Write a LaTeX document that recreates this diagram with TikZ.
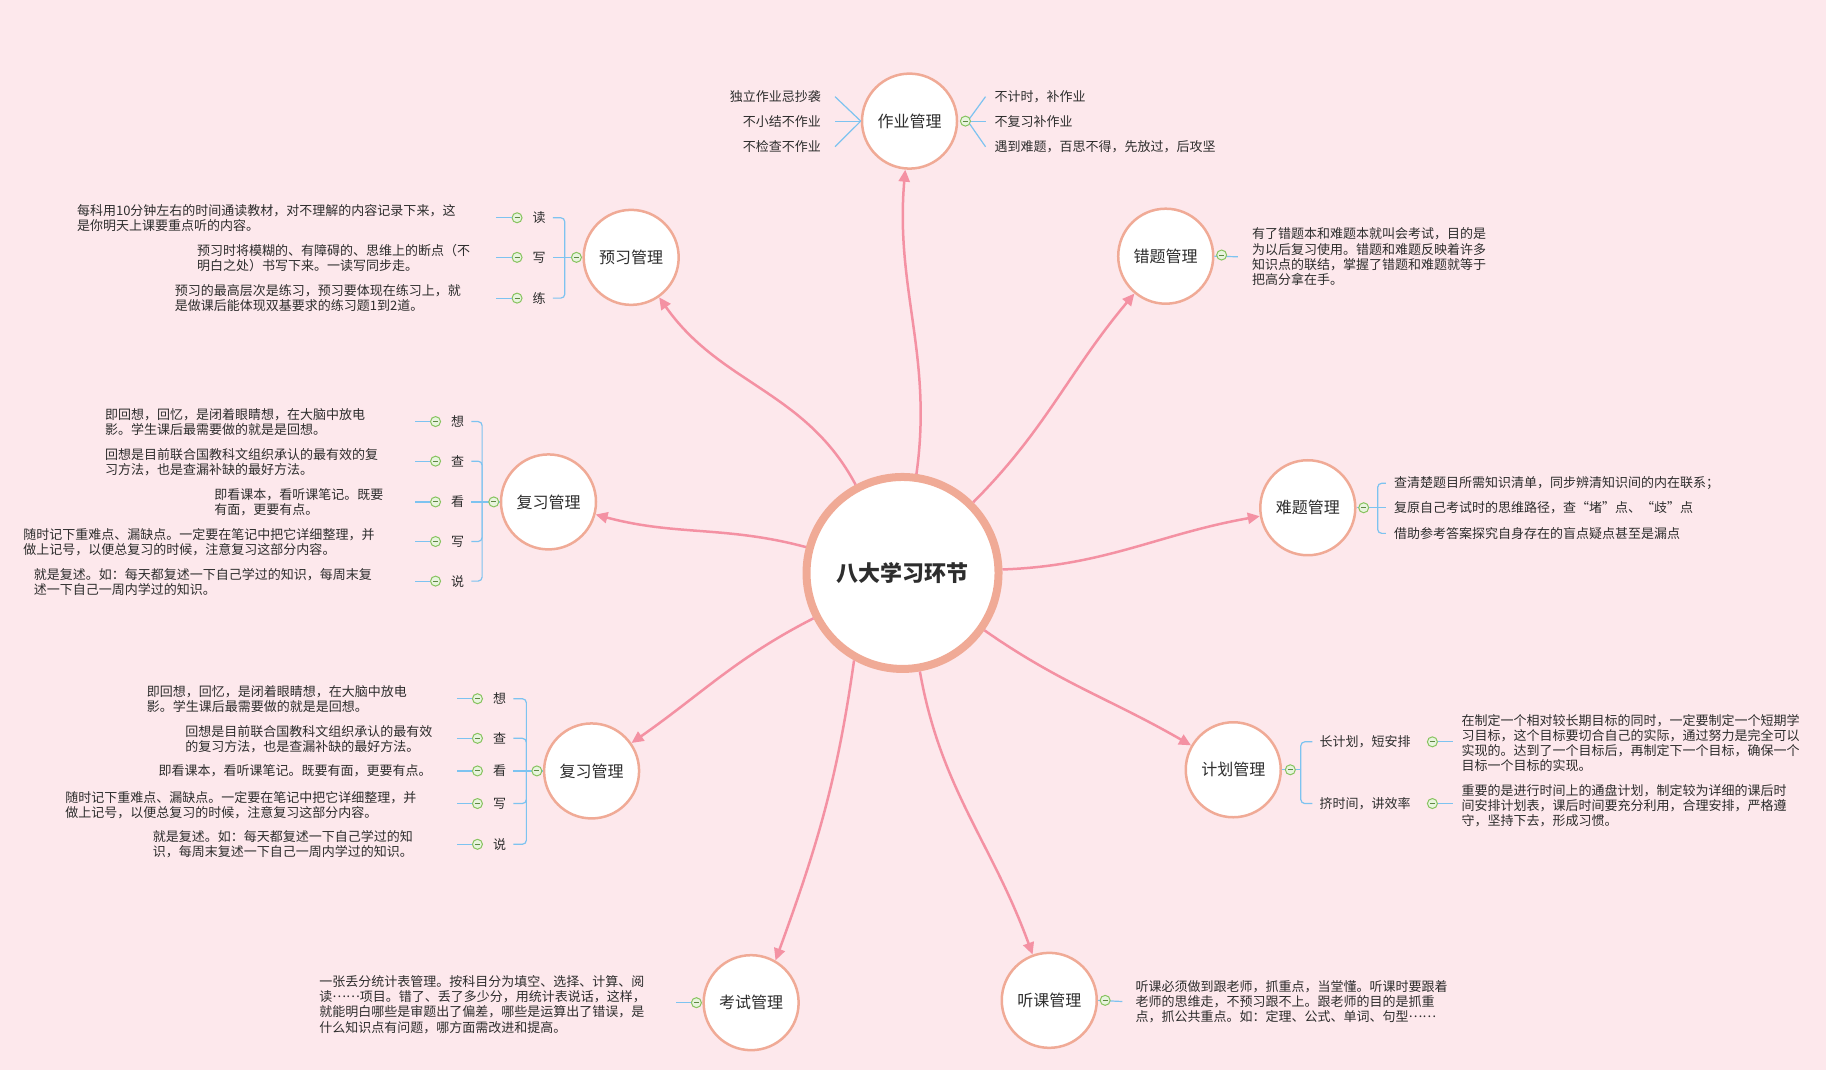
\documentclass[tikz,border=0pt]{standalone}
\usepackage{fontspec}
\newfontfamily\cjk{Noto Sans CJK SC}
\usetikzlibrary{arrows.meta}
\definecolor{bg}{RGB}{253,232,236}
\definecolor{ring}{RGB}{240,170,150}
\definecolor{linkpink}{RGB}{244,145,163}
\definecolor{twigblue}{RGB}{125,195,240}
\definecolor{mk}{RGB}{135,195,95}
\definecolor{mkfill}{RGB}{232,244,222}
\definecolor{ink}{RGB}{45,45,45}
\newcommand{\midellip}{\raisebox{0.33em}{……}}
\tikzset{
    hub/.style={circle, draw=ring, line width=8pt, fill=white, minimum size=192pt, inner sep=0pt, font=\cjk\bfseries\fontsize{22}{26}\selectfont, text=ink},
    topic/.style={circle, draw=ring, line width=2.5pt, fill=white, minimum size=95pt, inner sep=0pt, font=\cjk\fontsize{16}{19}\selectfont, text=ink},
    link/.style={draw=linkpink, line width=2.5pt, -{Triangle[length=12pt,width=11pt]}},
    twig/.style={draw=twigblue, line width=1.2pt},
    note/.style={font=\cjk\fontsize{13}{15.2}\selectfont, text=ink, align=left, inner sep=0pt}
}

\begin{document}
\begin{tikzpicture}[
    x=1.1645pt, y=1.1645pt,
    fold/.style={circle, draw=mk, fill=mkfill, line width=1pt, minimum size=10pt, inner sep=0pt,
        path picture={\draw[mk!70!black, line width=1pt] ([xshift=-2.5pt]path picture bounding box.center) -- ([xshift=2.5pt]path picture bounding box.center);}},
    sub/.style={font=\cjk\fontsize{13}{15.2}\selectfont, text=ink, inner xsep=7pt, inner ysep=0pt}
]
    % Canvas
    \useasboundingbox (0,0) rectangle (1568,-919);
    \fill[bg] (0,0) rectangle (1568,-919);

    % Hub and main topics
    \node[hub] (HUB) at (775,-492) {八大学习环节};
    \node[topic] (ZY) at (781,-104) {作业管理};
    \node[topic] (YX) at (542,-221) {预习管理};
    \node[topic] (CT) at (1001,-220) {错题管理};
    \node[topic] (FA) at (471,-431) {复习管理};
    \node[topic] (NT) at (1123,-436) {难题管理};
    \node[topic] (FB) at (508,-662) {复习管理};
    \node[topic] (JH) at (1059,-661) {计划管理};
    \node[topic] (KS) at (645,-861) {考试管理};
    \node[topic] (TK) at (901,-859) {听课管理};

    % Curved links from the hub
    \draw[link] (HUB) to[out=82, in=-95] (ZY);
    \draw[link] (HUB) to[out=118, in=-55] (YX);
    \draw[link] (HUB) to[out=45, in=-130] (CT);
    \draw[link] (HUB) to[out=165, in=-15] (FA);
    \draw[link] (HUB) to[out=2, in=190] (NT);
    \draw[link] (HUB) to[out=207, in=35] (FB);
    \draw[link] (HUB) to[out=-35, in=150] (JH);
    \draw[link] (HUB.-119) to[out=-98, in=70] (KS.60);
    \draw[link] (HUB) to[out=-80, in=110] (TK);

    % 作业管理
    \node[note, anchor=east] (ZL1) at (705,-83) {独立作业忌抄袭};
    \node[note, anchor=east] (ZL2) at (705,-104) {不小结不作业};
    \node[note, anchor=east] (ZL3) at (705,-126) {不检查不作业};
    \node[note, anchor=west] (ZR1) at (854,-83) {不计时，补作业};
    \node[note, anchor=west] (ZR2) at (854,-104) {不复习补作业};
    \node[note, anchor=west] (ZR3) at (854,-126) {遇到难题，百思不得，先放过，后攻坚};
    \draw[twig] (ZY.west) -- ([xshift=14pt]ZL1.east);
    \draw[twig] (ZY.west) -- ([xshift=14pt]ZL2.east);
    \draw[twig] (ZY.west) -- ([xshift=14pt]ZL3.east);
    \draw[twig] (831,-104) -- ([xshift=-9pt]ZR1.west);
    \draw[twig] (831,-104) -- ([xshift=-9pt]ZR2.west);
    \draw[twig] (831,-104) -- ([xshift=-9pt]ZR3.west);
    \node[fold] (ZF) at (829,-104) {};

    % 预习管理
    \node[sub] (YXa) at (463,-187) {读};
    \node[sub] (YXb) at (463,-221) {写};
    \node[sub] (YXc) at (463,-256) {练};
    \coordinate (YXj) at (485,-221);
    \draw[twig] (YX.west) -- (YXb.east);
    \draw[twig, rounded corners=4pt] (YXj) |- (YXa.east);
    \draw[twig, rounded corners=4pt] (YXj) |- (YXc.east);
    \node[fold] (YF) at (495,-221) {};
    \foreach \n/\y in {a/-187, b/-221, c/-256} {
        \node[fold] (YM\n) at (444,\y) {};
        \draw[twig] (YM\n.west) -- ++(-13,0);
    }
    \node[note, anchor=west] (YN1) at (66,-187.5) {每科用10分钟左右的时间通读教材，对不理解的内容记录下来，这\\是你明天上课要重点听的内容。};
    \node[note, anchor=west] (YN2) at (169,-221.5) {预习时将模糊的、有障碍的、思维上的断点（不\\明白之处）书写下来。一读写同步走。};
    \node[note, anchor=west] (YN3) at (150,-256) {预习的最高层次是练习，预习要体现在练习上，就\\是做课后能体现双基要求的练习题1到2道。};

    % 错题管理
    \node[note, anchor=west] (CT1) at (1075,-220.5) {有了错题本和难题本就叫会考试，目的是\\为以后复习使用。错题和难题反映着许多\\知识点的联结，掌握了错题和难题就等于\\把高分拿在手。};
    \draw[twig] (CT.east) -- ([xshift=-14pt]CT1.west);
    \node[fold] (CF) at (1049,-219) {};

    % 复习管理 (upper)
    \node[sub] (FAa) at (393,-362) {想};
    \node[sub] (FAb) at (393,-396) {查};
    \node[sub] (FAc) at (393,-431) {看};
    \node[sub] (FAd) at (393,-465) {写};
    \node[sub] (FAe) at (393,-499) {说};
    \coordinate (FAj) at (414,-431);
    \draw[twig] (FA.west) -- (FAc.east);
    \foreach \n in {a,b,d,e}
        \draw[twig, rounded corners=4pt] (FAj) |- (FA\n.east);
    \node[fold] (FAF) at (424,-431) {};
    \foreach \n/\y in {a/-362, b/-396, c/-431, d/-465, e/-499} {
        \node[fold] (FAM\n) at (374,\y) {};
        \draw[twig] (FAM\n.west) -- ++(-13,0);
    }
    \node[note, anchor=west] (FN1) at (90,-362.5) {即回想，回忆，是闭着眼睛想，在大脑中放电\\影。学生课后最需要做的就是是回想。};
    \node[note, anchor=west] (FN2) at (90,-397) {回想是目前联合国教科文组织承认的最有效的复\\习方法，也是查漏补缺的最好方法。};
    \node[note, anchor=west] (FN3) at (184,-431.5) {即看课本，看听课笔记。既要\\有面，更要有点。};
    \node[note, anchor=west] (FN4) at (20,-465.5) {随时记下重难点、漏缺点。一定要在笔记中把它详细整理，并\\做上记号，以便总复习的时候，注意复习这部分内容。};
    \node[note, anchor=west] (FN5) at (29,-499.5) {就是复述。如：每天都复述一下自己学过的知识，每周末复\\述一下自己一周内学过的知识。};

    % 难题管理
    \node[note, anchor=west] (NT1) at (1197,-415) {查清楚题目所需知识清单，同步辨清知识间的内在联系；};
    \node[note, anchor=west] (NT2) at (1197,-436) {复原自己考试时的思维路径，查“堵”点、“歧”点};
    \node[note, anchor=west] (NT3) at (1197,-458) {借助参考答案探究自身存在的盲点疑点甚至是漏点};
    \coordinate (NTj) at (1183,-436);
    \draw[twig] (NT.east) -- ([xshift=-8pt]NT2.west);
    \draw[twig, rounded corners=4pt] (NTj) |- ([xshift=-8pt]NT1.west);
    \draw[twig, rounded corners=4pt] (NTj) |- ([xshift=-8pt]NT3.west);
    \node[fold] (NF) at (1171,-436) {};

    % 复习管理 (lower)
    \node[sub] (FBa) at (429,-600) {想};
    \node[sub] (FBb) at (429,-634) {查};
    \node[sub] (FBc) at (429,-662) {看};
    \node[sub] (FBd) at (429,-690) {写};
    \node[sub] (FBe) at (429,-725) {说};
    \coordinate (FBj) at (452,-662);
    \draw[twig] (FB.west) -- (FBc.east);
    \foreach \n in {a,b,d,e}
        \draw[twig, rounded corners=4pt] (FBj) |- (FB\n.east);
    \node[fold] (FBF) at (461,-662) {};
    \foreach \n/\y in {a/-600, b/-634, c/-662, d/-690, e/-725} {
        \node[fold] (FBM\n) at (410,\y) {};
        \draw[twig] (FBM\n.west) -- ++(-13,0);
    }
    \node[note, anchor=west] (GN1) at (126,-600.5) {即回想，回忆，是闭着眼睛想，在大脑中放电\\影。学生课后最需要做的就是是回想。};
    \node[note, anchor=west] (GN2) at (159,-634.5) {回想是目前联合国教科文组织承认的最有效\\的复习方法，也是查漏补缺的最好方法。};
    \node[note, anchor=west] (GN3) at (136,-662) {即看课本，看听课笔记。既要有面，更要有点。};
    \node[note, anchor=west] (GN4) at (56,-691.5) {随时记下重难点、漏缺点。一定要在笔记中把它详细整理，并\\做上记号，以便总复习的时候，注意复习这部分内容。};
    \node[note, anchor=west] (GN5) at (131,-725) {就是复述。如：每天都复述一下自己学过的知\\识，每周末复述一下自己一周内学过的知识。};

    % 计划管理
    \node[sub, anchor=west] (JHa) at (1127,-637) {长计划，短安排};
    \node[sub, anchor=west] (JHb) at (1127,-690) {挤时间，讲效率};
    \coordinate (JHj) at (1117,-661);
    \draw[twig] (JH.east) -- (JHj);
    \draw[twig, rounded corners=4pt] (JHj) |- (JHa.west);
    \draw[twig, rounded corners=4pt] (JHj) |- (JHb.west);
    \node[fold] (JF) at (1108,-661) {};
    \node[note, anchor=west] (JN1) at (1255,-638) {在制定一个相对较长期目标的同时，一定要制定一个短期学\\习目标，这个目标要切合自己的实际，通过努力是完全可以\\实现的。达到了一个目标后，再制定下一个目标，确保一个\\目标一个目标的实现。};
    \node[note, anchor=west] (JN2) at (1255,-692) {重要的是进行时间上的通盘计划，制定较为详细的课后时\\间安排计划表，课后时间要充分利用，合理安排，严格遵\\守，坚持下去，形成习惯。};
    \node[fold] (JMa) at (1230,-637) {};
    \node[fold] (JMb) at (1230,-690) {};
    \draw[twig] (JMa.east) -- ([xshift=-9pt]JN1.west |- JMa);
    \draw[twig] (JMb.east) -- ([xshift=-9pt]JN2.west |- JMb);

    % 考试管理
    \node[note, anchor=west] (KN) at (274,-862.5) {一张丢分统计表管理。按科目分为填空、选择、计算、阅\\读\midellip 项目。错了、丢了多少分，用统计表说话，这样，\\就能明白哪些是审题出了偏差，哪些是运算出了错误，是\\什么知识点有问题，哪方面需改进和提高。};
    \node[fold] (KF) at (598,-861) {};
    \draw[twig] (KF.west) -- ++(-13,0);

    % 听课管理
    \node[note, anchor=west] (TN) at (975,-860) {听课必须做到跟老师，抓重点，当堂懂。听课时要跟着\\老师的思维走，不预习跟不上。跟老师的目的是抓重\\点，抓公共重点。如：定理、公式、单词、句型\midellip};
    \draw[twig] (TK.east) -- ([xshift=-13pt]TN.west);
    \node[fold] (TF) at (949,-859) {};
\end{tikzpicture}
\end{document}
